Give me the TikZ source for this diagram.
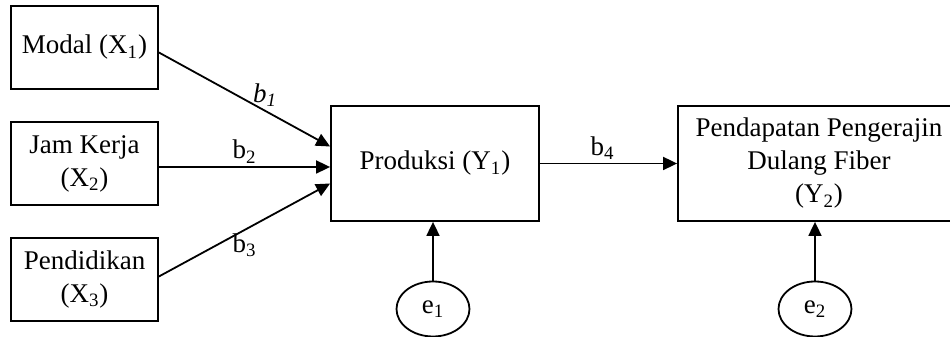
\documentclass[tikz,border=0pt]{standalone}
\usepackage{fontspec}
\setmainfont{Liberation Serif}
\usepackage{tikz}
\usetikzlibrary{shapes.geometric, arrows.meta}
\tikzstyle{varbox} = [rectangle, minimum width=73.5pt, minimum height=41.5pt, text centered, align=center, draw=black, line width=0.9pt, fill=white]
\tikzstyle{endogbox} = [rectangle, minimum height=57.5pt, text centered, align=center, draw=black, line width=0.9pt, fill=white]
\tikzstyle{errnode} = [ellipse, minimum width=36.5pt, minimum height=27.5pt, inner sep=1pt, draw=black, line width=0.9pt]
\tikzstyle{arrow} = [line width=0.9pt, -{Triangle[length=7pt, width=6.5pt]}]
\tikzstyle{coef} = [inner sep=1.5pt]

\begin{document}
\begin{tikzpicture}[x=0.5pt, y=0.5pt, node distance=58pt, font=\fontsize{13.5}{16.5}\selectfont]
        \useasboundingbox (0,0) rectangle (950,337);
        % Nodes
        \node (modal) [varbox] at (84.5,289.5) {Modal (X\textsubscript{1})};
        \node (jamKerja) [varbox, below of=modal] {Jam Kerja\\(X\textsubscript{2})};
        \node (pendidikan) [varbox, below of=jamKerja] {Pendidikan\\(X\textsubscript{3})};
        \node (produksi) [endogbox, minimum width=104pt, right of=jamKerja, xshift=117.25pt] {Produksi (Y\textsubscript{1})};
        \node (pendapatan) [endogbox, minimum width=141pt, right of=produksi, xshift=134pt] {Pendapatan Pengerajin\\Dulang Fiber\\(Y\textsubscript{2})};
        \node (errA) [errnode, below of=produksi, yshift=-14.75pt, xshift=-1pt] {e\textsubscript{1}};
        \node (errB) [errnode, below of=pendapatan, yshift=-14.75pt, xshift=-2pt] {e\textsubscript{2}};

        % Arrows
        \draw [arrow] ([yshift=-2.5pt]modal.east) -- ([yshift=8.5pt]produksi.west) node (lblA) [coef, pos=0.62, above] {\textit{b}\textsubscript{\textit{1}}};
        \draw [arrow] ([yshift=-1.75pt]jamKerja.east) -- ([yshift=-1.75pt]produksi.west) node (lblB) [coef, midway, above] {b\textsubscript{2}};
        \draw [arrow] ([yshift=1.5pt]pendidikan.east) -- ([yshift=-10pt]produksi.west) node (lblC) [coef, midway, below] {b\textsubscript{3}};
        \draw [arrow] (produksi) -- (pendapatan) node (lblD) [coef, midway, above, xshift=-3pt] {b\textsubscript{4}};
        \draw [arrow] (errA.north) -- (errA.north |- produksi.south);
        \draw [arrow] (errB.north) -- (errB.north |- pendapatan.south);
    \end{tikzpicture}
\end{document}
